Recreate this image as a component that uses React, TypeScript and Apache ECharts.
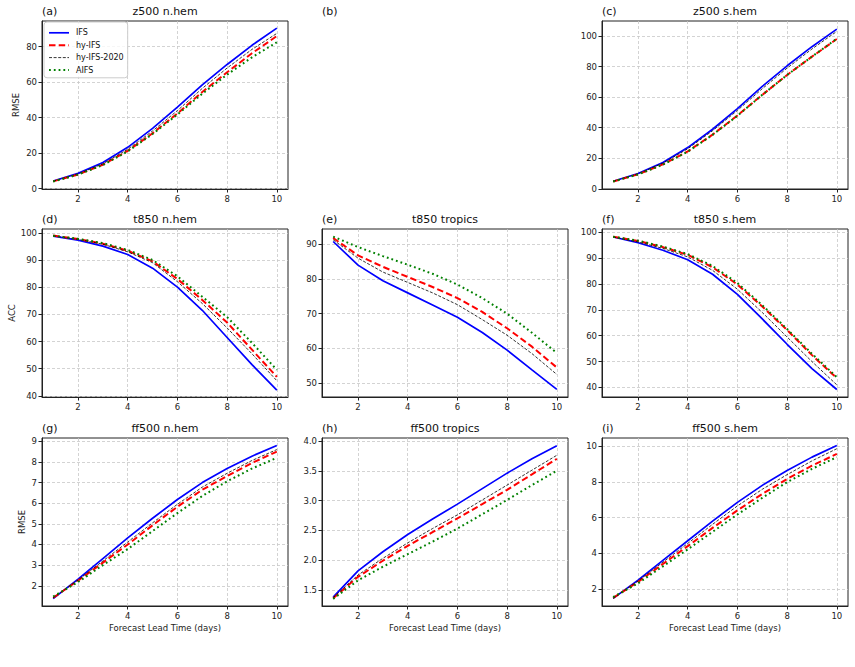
import React, { useEffect, useRef } from 'react';
import * as echarts from 'echarts';

// ---------- data ----------
const days = [1, 2, 3, 4, 5, 6, 7, 8, 9, 10];
const modelNames = ['IFS', 'hy-IFS', 'hy-IFS-2020', 'AIFS'];
const xTicks = [2, 4, 6, 8, 10];

// (a) z500 n.hem RMSE
const z500NhemIFS = [4.3, 8.6, 14.7, 23.3, 34.0, 46.0, 58.5, 70.0, 80.8, 90.5];
const z500NhemHyIFS = [4.1, 8.0, 13.5, 21.3, 31.2, 42.4, 54.5, 65.6, 76.3, 86.0];
const z500NhemHy2020 = [4.2, 8.3, 14.0, 22.2, 32.5, 44.0, 56.5, 68.0, 78.5, 87.5];
const z500NhemAIFS = [4.0, 7.9, 13.3, 21.0, 30.8, 41.8, 53.5, 64.3, 74.0, 82.5];
const z500NhemTicks = [0, 20, 40, 60, 80];

// (c) z500 s.hem RMSE
const z500ShemIFS = [5.0, 10.0, 17.2, 27.0, 39.0, 52.5, 67.0, 80.5, 93.0, 104.5];
const z500ShemHyIFS = [4.8, 9.5, 16.0, 24.5, 35.5, 48.0, 61.5, 74.5, 86.5, 98.0];
const z500ShemHy2020 = [4.9, 9.8, 16.8, 26.2, 38.0, 51.3, 65.5, 79.0, 91.5, 103.0];
const z500ShemAIFS = [4.8, 9.4, 15.8, 24.3, 35.3, 47.8, 61.5, 74.5, 86.5, 98.2];
const z500ShemTicks = [0, 20, 40, 60, 80, 100];

// (d) t850 n.hem ACC
const t850NhemIFS = [98.8, 97.3, 95.1, 92.0, 87.0, 80.0, 71.5, 61.5, 51.5, 42.1];
const t850NhemHyIFS = [99.0, 97.7, 96.0, 93.4, 89.5, 83.0, 75.3, 67.0, 57.0, 47.0];
const t850NhemHy2020 = [98.9, 97.6, 95.8, 93.0, 89.0, 82.0, 74.0, 65.0, 55.5, 45.6];
const t850NhemAIFS = [98.9, 97.8, 96.2, 93.7, 90.0, 84.0, 76.5, 69.0, 59.5, 49.6];
const t850NhemTicks = [40, 50, 60, 70, 80, 90, 100];

// (e) t850 tropics ACC
const t850TropIFS = [90.8, 84.0, 79.5, 76.0, 72.5, 69.0, 64.6, 59.5, 53.8, 48.2];
const t850TropHyIFS = [91.8, 86.8, 83.5, 80.6, 77.7, 74.5, 70.5, 65.8, 60.5, 54.5];
const t850TropHy2020 = [91.3, 86.0, 82.0, 79.0, 76.0, 72.6, 68.3, 63.8, 58.5, 52.5];
const t850TropAIFS = [92.2, 89.2, 86.6, 84.1, 81.5, 78.4, 74.5, 70.0, 64.5, 58.7];
const t850TropTicks = [50, 60, 70, 80, 90];

// (f) t850 s.hem ACC
const t850ShemIFS = [98.2, 96.0, 93.1, 89.4, 83.8, 76.0, 66.5, 56.7, 47.3, 39.2];
const t850ShemHyIFS = [98.3, 96.7, 94.3, 91.3, 86.5, 79.8, 71.3, 62.2, 52.5, 43.6];
const t850ShemHy2020 = [98.2, 96.3, 93.8, 90.5, 85.3, 78.0, 69.0, 59.5, 50.0, 41.0];
const t850ShemAIFS = [98.3, 96.8, 94.5, 91.6, 87.0, 80.4, 71.8, 62.6, 53.0, 44.0];
const t850ShemTicks = [40, 50, 60, 70, 80, 90, 100];

// (g) ff500 n.hem RMSE
const ff500NhemIFS = [1.38, 2.32, 3.32, 4.32, 5.27, 6.18, 7.0, 7.68, 8.28, 8.8];
const ff500NhemHyIFS = [1.42, 2.25, 3.12, 4.0, 4.93, 5.83, 6.65, 7.32, 7.95, 8.5];
const ff500NhemHy2020 = [1.42, 2.28, 3.2, 4.12, 5.05, 5.95, 6.78, 7.45, 8.07, 8.6];
const ff500NhemAIFS = [1.48, 2.18, 3.0, 3.78, 4.65, 5.52, 6.35, 7.06, 7.68, 8.2];
const ff500NhemTicks = [2, 3, 4, 5, 6, 7, 8, 9];

// (h) ff500 tropics RMSE
const ff500TropIFS = [1.38, 1.82, 2.14, 2.43, 2.69, 2.94, 3.2, 3.46, 3.7, 3.92];
const ff500TropHyIFS = [1.36, 1.72, 1.99, 2.24, 2.47, 2.7, 2.94, 3.18, 3.44, 3.7];
const ff500TropHy2020 = [1.37, 1.75, 2.03, 2.29, 2.53, 2.76, 3.01, 3.26, 3.51, 3.76];
const ff500TropAIFS = [1.35, 1.66, 1.89, 2.1, 2.31, 2.53, 2.77, 3.01, 3.26, 3.5];
const ff500TropTicks = [1.5, 2.0, 2.5, 3.0, 3.5, 4.0];

// (i) ff500 s.hem RMSE
const ff500ShemIFS = [1.48, 2.5, 3.6, 4.7, 5.8, 6.85, 7.8, 8.63, 9.38, 10.03];
const ff500ShemHyIFS = [1.5, 2.4, 3.4, 4.4, 5.42, 6.4, 7.32, 8.16, 8.9, 9.56];
const ff500ShemHy2020 = [1.48, 2.45, 3.5, 4.55, 5.62, 6.65, 7.58, 8.4, 9.17, 9.85];
const ff500ShemAIFS = [1.55, 2.32, 3.27, 4.22, 5.2, 6.17, 7.1, 7.98, 8.72, 9.38];
const ff500ShemTicks = [2, 4, 6, 8, 10];

// ---------- layout / style ----------
const FONT = 'DejaVu Sans';
const colLeft = [42, 322, 602];
const rowTop = [21, 229, 438];
const plotW = 246;
const plotH = 168;

const lineStyles: any[] = [
  { color: '#0000ff', width: 1.7, type: 'solid' },
  { color: '#ff0000', width: 2, type: [6.5, 3.2] },
  { color: '#000000', width: 0.8, type: [3, 1.6] },
  { color: '#008000', width: 2, type: [1.8, 3] },
];

const panels = [
  { tag: '(a)', title: 'z500 n.hem', col: 0, row: 0, series: [z500NhemIFS, z500NhemHyIFS, z500NhemHy2020, z500NhemAIFS], yMin: -0.2, yMax: 94.5, ticks: z500NhemTicks, dec: 0, yName: 'RMSE', yGap: 22 },
  { tag: '(c)', title: 'z500 s.hem', col: 2, row: 0, series: [z500ShemIFS, z500ShemHyIFS, z500ShemHy2020, z500ShemAIFS], yMin: -0.1, yMax: 109.8, ticks: z500ShemTicks, dec: 0 },
  { tag: '(d)', title: 't850 n.hem', col: 0, row: 1, series: [t850NhemIFS, t850NhemHyIFS, t850NhemHy2020, t850NhemAIFS], yMin: 39.6, yMax: 101.4, ticks: t850NhemTicks, dec: 0, yName: 'ACC', yGap: 26 },
  { tag: '(e)', title: 't850 tropics', col: 1, row: 1, series: [t850TropIFS, t850TropHyIFS, t850TropHy2020, t850TropAIFS], yMin: 46.0, yMax: 94.4, ticks: t850TropTicks, dec: 0 },
  { tag: '(f)', title: 't850 s.hem', col: 2, row: 1, series: [t850ShemIFS, t850ShemHyIFS, t850ShemHy2020, t850ShemAIFS], yMin: 36.3, yMax: 101.3, ticks: t850ShemTicks, dec: 0 },
  { tag: '(g)', title: 'ff500 n.hem', col: 0, row: 2, series: [ff500NhemIFS, ff500NhemHyIFS, ff500NhemHy2020, ff500NhemAIFS], yMin: 1.02, yMax: 9.16, ticks: ff500NhemTicks, dec: 0, yName: 'RMSE', yGap: 16 },
  { tag: '(h)', title: 'ff500 tropics', col: 1, row: 2, series: [ff500TropIFS, ff500TropHyIFS, ff500TropHy2020, ff500TropAIFS], yMin: 1.23, yMax: 4.05, ticks: ff500TropTicks, dec: 1 },
  { tag: '(i)', title: 'ff500 s.hem', col: 2, row: 2, series: [ff500ShemIFS, ff500ShemHyIFS, ff500ShemHy2020, ff500ShemAIFS], yMin: 1.05, yMax: 10.45, ticks: ff500ShemTicks, dec: 0 },
];

const gridLine = { color: '#c8c8c8', width: 0.8, type: [3, 2] as any };
const tickColor = '#222';

function buildOption() {
  const grid: any[] = [];
  const xAxis: any[] = [];
  const yAxis: any[] = [];
  const series: any[] = [];
  const graphic: any[] = [];

  panels.forEach((p, i) => {
    const left = colLeft[p.col];
    const top = rowTop[p.row];
    grid.push({ left, top, width: plotW, height: plotH, show: true, borderColor: '#222', borderWidth: 1, backgroundColor: 'transparent' });
    xAxis.push({
      type: 'value', gridIndex: i, min: 0.55, max: 10.45,
      axisLine: { show: true, onZero: false, lineStyle: { color: '#222', width: 1 } },
      axisTick: { show: true, customValues: xTicks, length: 3.5, lineStyle: { color: tickColor } },
      axisLabel: { customValues: xTicks, fontFamily: FONT, fontSize: 8.5, color: tickColor, margin: 5 },
      splitLine: { show: true, lineStyle: gridLine },
      name: p.row === 2 ? 'Forecast Lead Time (days)' : '',
      nameLocation: 'middle', nameGap: 17,
      nameTextStyle: { fontFamily: FONT, fontSize: 8.5, color: tickColor },
    });
    yAxis.push({
      type: 'value', gridIndex: i, min: p.yMin, max: p.yMax,
      axisLine: { show: true, onZero: false, lineStyle: { color: '#222', width: 1 } },
      axisTick: { show: true, customValues: p.ticks, length: 3.5, lineStyle: { color: tickColor } },
      axisLabel: { customValues: p.ticks, fontFamily: FONT, fontSize: 8.5, color: tickColor, margin: 5, formatter: (v: number) => v.toFixed(p.dec) },
      splitLine: { show: true, lineStyle: gridLine },
      name: p.yName || '', nameLocation: 'middle', nameGap: p.yGap || 20, nameRotate: 90,
      nameTextStyle: { fontFamily: FONT, fontSize: 8.5, color: tickColor },
    });
    p.series.forEach((vals, k) => {
      series.push({
        type: 'line', name: modelNames[k], xAxisIndex: i, yAxisIndex: i,
        data: days.map((d, j) => [d, vals[j]]),
        symbol: 'none', smooth: false,
        lineStyle: { ...lineStyles[k], cap: 'butt' },
        itemStyle: { color: lineStyles[k].color },
        emphasis: { disabled: true },
      });
    });
    graphic.push({ type: 'text', x: left + plotW / 2, y: top - 9.5, style: { text: p.title, font: `11px "${FONT}"`, fill: '#111', textAlign: 'center', textVerticalAlign: 'middle' } });
    graphic.push({ type: 'text', x: left, y: top - 9.5, style: { text: p.tag, font: `11px "${FONT}"`, fill: '#111', textAlign: 'left', textVerticalAlign: 'middle' } });
  });

  graphic.push({ type: 'text', x: colLeft[1], y: rowTop[0] - 9.5, style: { text: '(b)', font: `11px "${FONT}"`, fill: '#111', textAlign: 'left', textVerticalAlign: 'middle' } });

  return {
    animation: false,
    backgroundColor: '#ffffff',
    grid, xAxis, yAxis, series, graphic,
    legend: {
      data: modelNames.map((name, k) => ({ name, lineStyle: { ...lineStyles[k], cap: 'butt' } })),
      orient: 'vertical',
      left: 44, top: 22,
      itemWidth: 20, itemHeight: 12, itemGap: 2.8,
      padding: [6, 4, 3, 4],
      borderColor: '#cccccc', borderWidth: 1, borderRadius: 3,
      backgroundColor: 'rgba(255,255,255,0.8)',
      itemStyle: { color: 'rgba(0,0,0,0)', borderColor: 'rgba(0,0,0,0)', borderWidth: 0, opacity: 0 },
      textStyle: { fontFamily: FONT, fontSize: 8, color: '#111', padding: [0, 0, 0, 2] },
      selectedMode: false,
    },
  };
}

export default function App() {
  const ref = useRef<HTMLDivElement>(null);
  useEffect(() => {
    document.body.style.margin = '0';
    if (!ref.current) return;
    const chart = echarts.init(ref.current, undefined, { renderer: 'svg' });
    chart.setOption(buildOption() as any);
    return () => chart.dispose();
  }, []);
  return <div ref={ref} style={{ width: 855, height: 667, position: 'absolute', left: 0, top: 0 }} />;
}
